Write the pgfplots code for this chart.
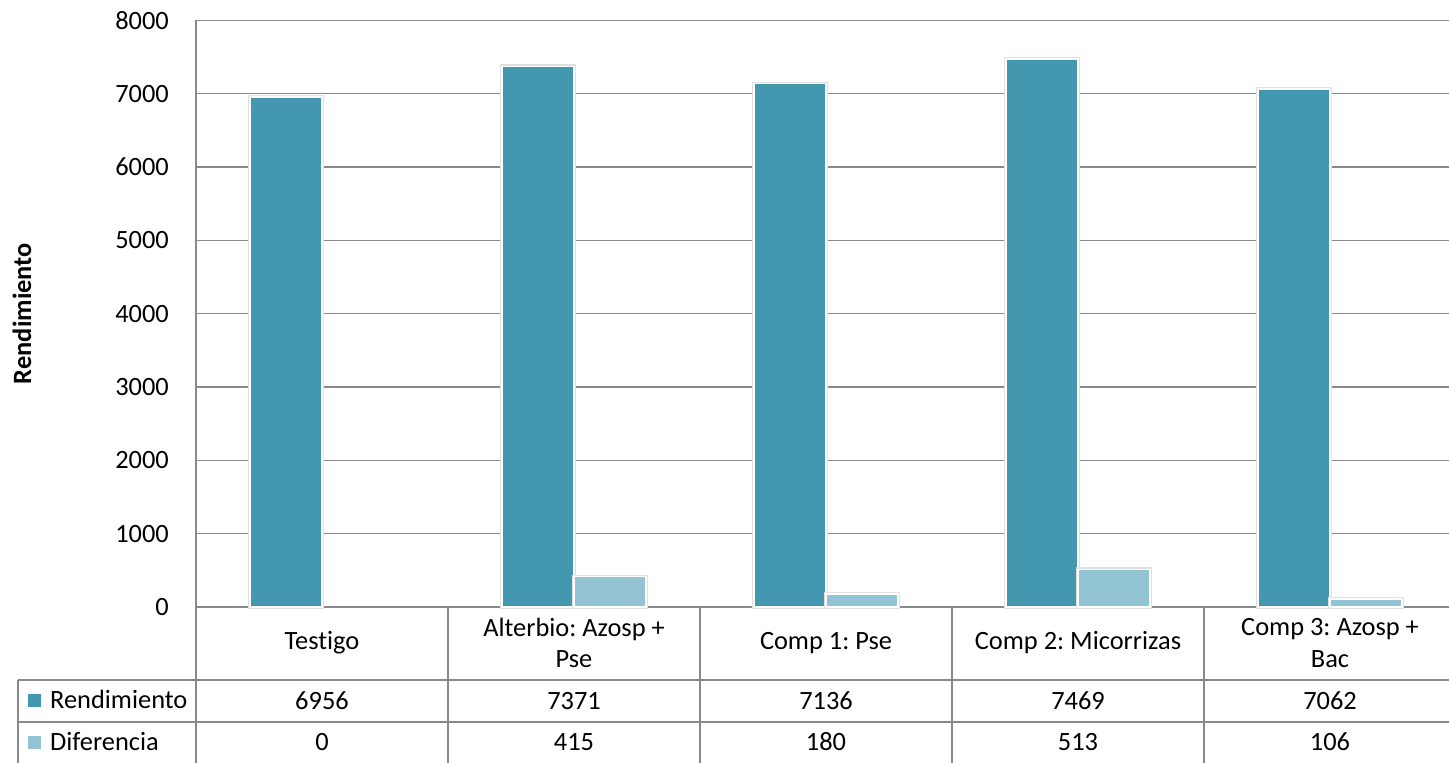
\documentclass[border=0pt]{standalone}
\usepackage{pgfplots}
\pgfplotsset{compat=1.18}
\usepackage{pgfplotstable}
\usepackage{fontspec}
\setmainfont[Ligatures={NoCommon}]{Carlito}
\definecolor{rend}{RGB}{67,152,176}
\definecolor{dif}{RGB}{147,196,212}
\definecolor{gridc}{RGB}{137,137,137}
\newcommand{\tf}{\fontsize{26.4bp}{31.7bp}\selectfont\frenchspacing}
\tikzset{tabnode/.style={font=\tf, anchor=base, inner sep=0pt}}

\pgfplotstableread{
idx rend dif
0 6956 0
1 7371 415
2 7136 180
3 7469 513
4 7062 106
}\datatable

\begin{document}
\begin{tikzpicture}[x=1bp,y=1bp]
\useasboundingbox (0,0) rectangle (1449,762);
\clip (0,0) rectangle (1449,762);
\begin{axis}[
  at={(196bp,155bp)}, anchor=south west,
  scale only axis, width=1260bp, height=586.7bp,
  xmin=-0.5, xmax=4.5, ymin=0, ymax=8000,
  ytick={0,1000,...,8000},
  xtick={0,1,2,3,4},
  xticklabels={Testigo,{Alterbio: Azosp +\\Pse},{Comp 1: Pse},{Comp 2: Micorrizas},{Comp 3: Azosp +\\Bac}},
  axis x line*=bottom, axis y line*=left,
  axis line style={-, draw=gridc, line width=1.5bp},
  ymajorgrids, grid style={draw=gridc, line width=1.5bp},
  major tick length=0pt, tick style={draw=none},
  /pgf/number format/assume math mode=true,
  /pgf/number format/1000 sep={},
  yticklabel style={font=\tf, anchor=east, inner sep=0pt, xshift=-27bp},
  xticklabel style={font=\tf, anchor=center, inner sep=0pt, yshift=-36bp, text width=240bp, align=flush center},
  ylabel={\bfseries Rendimiento},
  every axis y label/.style={at={(rel axis cs:0,0.5)}, xshift=-174bp, rotate=90, anchor=center, font=\tf},
  clip=false,
]
\addplot[ybar, bar width=72bp, bar shift=-36bp, fill=rend, draw=white, line width=1.5bp,
  preaction={draw=black!12, line width=4bp}] table[x=idx, y=rend] {\datatable};
\addplot[ybar, bar width=72bp, bar shift=36bp, fill=dif, draw=white, line width=1.5bp,
  preaction={draw=black!12, line width=4bp}, y filter/.expression={y==0 ? nan : y},
  unbounded coords=discard] table[x=idx, y=dif] {\datatable};
% table values
\node[tabnode, yshift=-102bp] at (axis cs:0,0) {6956};
\node[tabnode, yshift=-102bp] at (axis cs:1,0) {7371};
\node[tabnode, yshift=-102bp] at (axis cs:2,0) {7136};
\node[tabnode, yshift=-102bp] at (axis cs:3,0) {7469};
\node[tabnode, yshift=-102bp] at (axis cs:4,0) {7062};
\node[tabnode, yshift=-143bp] at (axis cs:0,0) {0};
\node[tabnode, yshift=-143bp] at (axis cs:1,0) {415};
\node[tabnode, yshift=-143bp] at (axis cs:2,0) {180};
\node[tabnode, yshift=-143bp] at (axis cs:3,0) {513};
\node[tabnode, yshift=-143bp] at (axis cs:4,0) {106};
\end{axis}
% data table grid
\begin{scope}[draw=gridc, line width=1.5bp]
\draw (18,82) -- (1460,82);
\draw (18,40) -- (1460,40);
\draw (18,82) -- (18,-10);
\foreach \x in {196,448,700,952,1204} \draw (\x,155) -- (\x,-10);
\end{scope}
\fill[rend] (28,55) rectangle (41,68);
\fill[dif] (28,13) rectangle (41,26);
\node[font=\tf, anchor=base west, inner sep=0pt] at (50,53) {Rendimiento};
\node[font=\tf, anchor=base west, inner sep=0pt] at (50,12) {Diferencia};
\end{tikzpicture}
\end{document}
